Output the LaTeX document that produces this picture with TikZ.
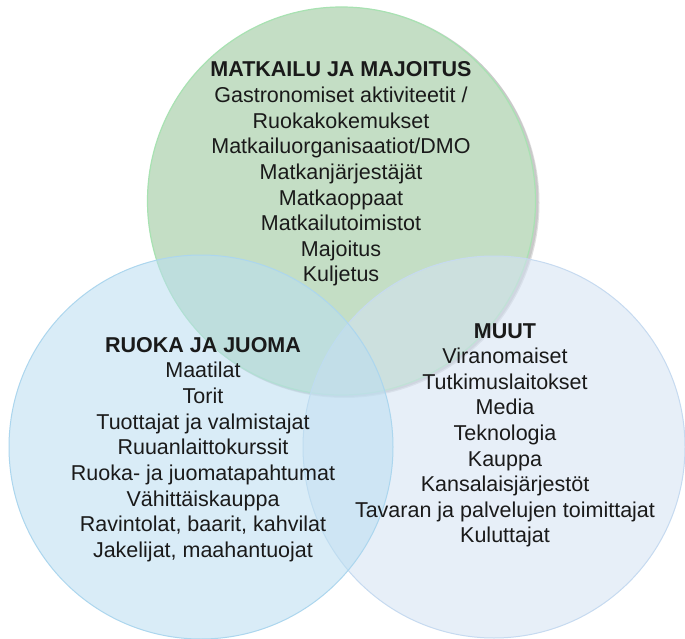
\documentclass[tikz,border=0pt]{standalone}
\usepackage{fontspec}
\setmainfont{Liberation Sans}
\definecolor{topfill}{RGB}{196,222,197}
\definecolor{topline}{RGB}{168,226,178}
\definecolor{leftfill}{RGB}{186,222,241}
\definecolor{leftline}{RGB}{172,214,238}
\definecolor{rightfill}{RGB}{212,226,244}
\definecolor{rightline}{RGB}{198,218,240}
\definecolor{txt}{RGB}{26,26,26}
\begin{document}
\begin{tikzpicture}[x=1pt,y=-1pt,
  title/.style={anchor=base,inner sep=0pt,text=txt,font=\fontsize{21.5}{25.6}\selectfont\bfseries},
  item/.style={anchor=base,inner sep=0pt,text=txt,font=\fontsize{21.5}{25.6}\selectfont}]
\useasboundingbox (0,0) rectangle (685,639);
\fill[white] (0,0) rectangle (685,639);
% top circle with soft shadow
\fill[black,opacity=0.12] (344.5,203) circle[radius=195];
\fill[black,opacity=0.10] (343.5,202) circle[radius=195];
\draw[fill=topfill,draw=topline,line width=1.2pt] (341.5,201) circle[radius=194];
% right circle
\draw[fill=rightfill,fill opacity=0.55,draw=rightline,line width=1pt] (494,447) circle[radius=191];
% left circle
\draw[fill=leftfill,fill opacity=0.55,draw=leftline,line width=1pt] (201,447) circle[radius=192];
% texts
\node[title] (toptitle) at (341,77) {MATKAILU JA MAJOITUS};
\foreach [count=\i] \t in {Gastronomiset aktiviteetit /,Ruokakokemukset,Matkailuorganisaatiot/DMO,Matkanjärjestäjät,Matkaoppaat,Matkailutoimistot,Majoitus,Kuljetus}
  \node[item] (top\i) at (341,{77+25.6*\i}) {\t};
\node[title] (lefttitle) at (203,352) {RUOKA JA JUOMA};
\foreach [count=\i] \t in {Maatilat,Torit,Tuottajat ja valmistajat,Ruuanlaittokurssit,Ruoka- ja juomatapahtumat,Vähittäiskauppa,{Ravintolat, baarit, kahvilat},{Jakelijat, maahantuojat}}
  \node[item] (left\i) at (203,{352+25.7*\i}) {\t};
\node[title] (righttitle) at (505,338) {MUUT};
\foreach [count=\i] \t in {Viranomaiset,Tutkimuslaitokset,Media,Teknologia,Kauppa,Kansalaisjärjestöt,Tavaran ja palvelujen toimittajat,Kuluttajat}
  \node[item] (right\i) at (505,{338+25.6*\i}) {\t};
\end{tikzpicture}
\end{document}
